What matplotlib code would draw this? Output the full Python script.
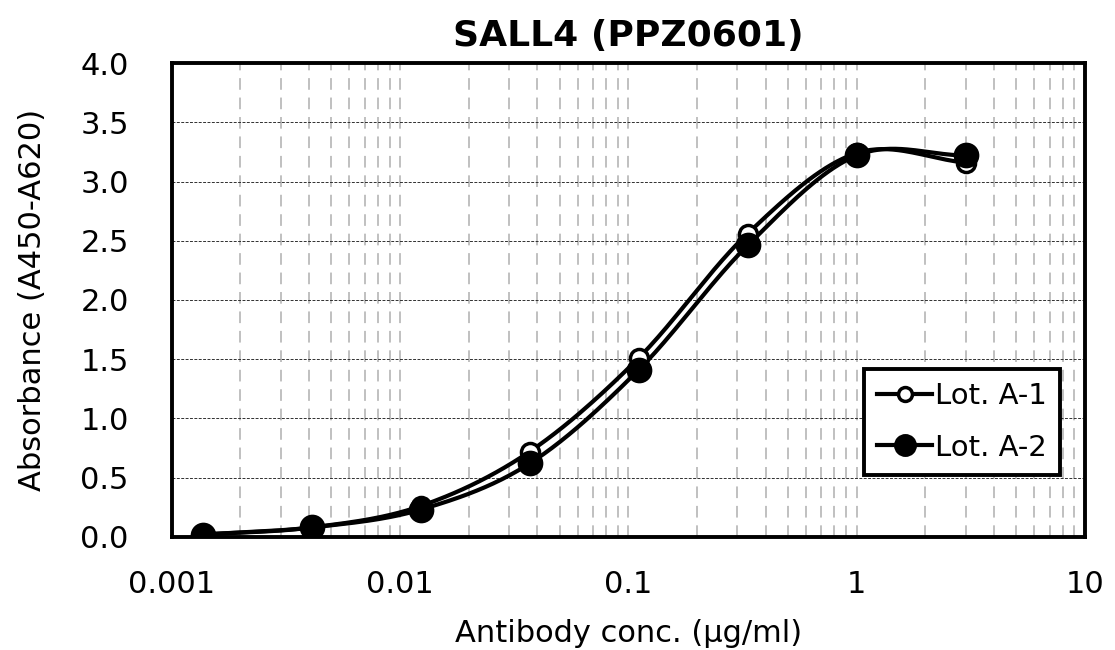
import numpy as np
import matplotlib.pyplot as plt
from matplotlib.ticker import LogLocator, FixedLocator, NullFormatter

# antibody concentration (ug/ml), 3-fold dilution series
conc = [0.00137, 0.00412, 0.0123, 0.037, 0.111, 0.333, 1.0, 3.0]
lot_a1 = [0.02, 0.08, 0.26, 0.72, 1.51, 2.56, 3.24, 3.16]
lot_a2 = [0.02, 0.08, 0.23, 0.62, 1.41, 2.46, 3.22, 3.22]
labels = ['Lot. A-1', 'Lot. A-2']
x_ticks = [0.001, 0.01, 0.1, 1, 10]
x_ticklabels = ['0.001', '0.01', '0.1', '1', '10']


def smooth(xs, ys, n=40):
    # Catmull-Rom style smoothing in log-x space (like a spreadsheet "smoothed line")
    lx = np.log10(xs)
    ys = np.asarray(ys, float)
    px = np.concatenate([[2 * lx[0] - lx[1]], lx, [2 * lx[-1] - lx[-2]]])
    py = np.concatenate([[2 * ys[0] - ys[1]], ys, [2 * ys[-1] - ys[-2]]])
    out_x, out_y = [], []
    t = np.linspace(0, 1, n)
    for i in range(1, len(px) - 2):
        p0, p1, p2, p3 = [np.array([px[j], py[j]]) for j in (i - 1, i, i + 1, i + 2)]
        c1 = p1 + (p2 - p0) / 6
        c2 = p2 - (p3 - p1) / 6
        pts = ((1 - t) ** 3)[:, None] * p1 + (3 * (1 - t) ** 2 * t)[:, None] * c1 \
            + (3 * (1 - t) * t ** 2)[:, None] * c2 + (t ** 3)[:, None] * p2
        out_x.extend(pts[:, 0])
        out_y.extend(pts[:, 1])
    return 10 ** np.array(out_x), np.array(out_y)


fig = plt.figure(figsize=(11.15, 6.5), dpi=100)
ax = fig.add_axes([0.154, 0.174, 0.819, 0.729])
ax.set_xscale('log')
ax.set_xlim(0.001, 10)
ax.set_ylim(0, 4)

# grid
ax.xaxis.set_major_locator(FixedLocator(x_ticks))
ax.set_xticklabels(x_ticklabels)
ax.xaxis.set_minor_locator(LogLocator(base=10, subs=np.arange(2, 10)))
ax.xaxis.set_minor_formatter(NullFormatter())
ax.set_yticks(np.arange(0, 4.01, 0.5))
ax.set_yticklabels([f'{v:.1f}' for v in np.arange(0, 4.01, 0.5)])
ax.grid(True, which='minor', axis='x', color='#c0c0c0', linestyle=(0, (6, 4)), linewidth=1.4)
ax.grid(True, which='major', axis='x', color='#c0c0c0', linestyle=(0, (6, 4)), linewidth=1.4)
ax.grid(True, which='major', axis='y', color='#303030', linestyle=(0, (3, 1.5)), linewidth=0.7)
ax.set_axisbelow(True)

for ys, face, lab in [(lot_a1, 'white', labels[0]), (lot_a2, 'black', labels[1])]:
    sx, sy = smooth(conc, ys)
    ax.plot(sx, sy, color='black', linewidth=3, zorder=3)
    ax.plot(conc, ys, linestyle='none', marker='o', markersize=16 if face == 'black' else 13,
            markerfacecolor=face, markeredgecolor='black', markeredgewidth=2.5, zorder=4)
    ax.plot([], [], color='black', linewidth=3, marker='o', markersize=14 if face == 'black' else 10,
            markerfacecolor=face, markeredgecolor='black', markeredgewidth=2.5, label=lab)

for s in ax.spines.values():
    s.set_linewidth(2.8)
ax.tick_params(axis='y', which='both', length=0, labelsize=22, pad=31)
ax.tick_params(axis='x', which='both', length=0, labelsize=22, pad=24)

ax.set_title('SALL4 (PPZ0601)', fontsize=26, fontweight='bold', pad=12)
ax.set_xlabel('Antibody conc. (µg/ml)', fontsize=22, labelpad=14)
ax.set_ylabel('Absorbance (A450-A620)', fontsize=22, labelpad=24)

leg = ax.legend(loc='lower right', bbox_to_anchor=(0.973, 0.131), fontsize=21, frameon=True,
                fancybox=False, handlelength=1.9, handletextpad=0.1, borderpad=0.45,
                labelspacing=0.8, borderaxespad=0)
leg.get_frame().set_edgecolor('black')
leg.get_frame().set_linewidth(2.8)
leg.get_frame().set_alpha(1)

fig.savefig('out.png', dpi=100)
